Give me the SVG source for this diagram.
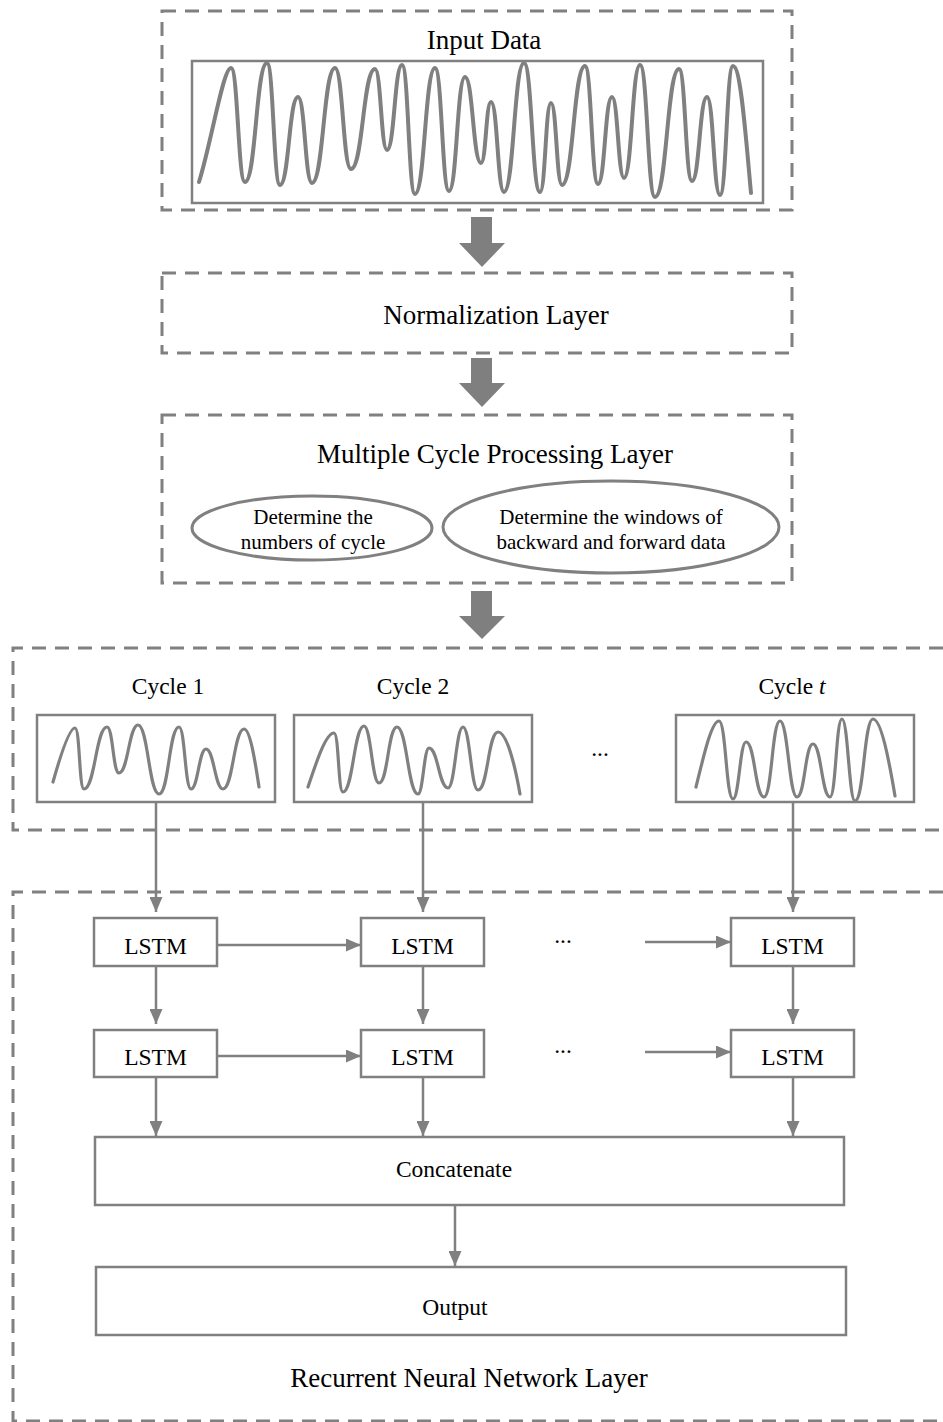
<svg xmlns="http://www.w3.org/2000/svg" width="943" height="1422" viewBox="0 0 943 1422">
<style>
.dash{fill:none;stroke:#808080;stroke-width:3;stroke-dasharray:14 9}
.box{fill:#fff;stroke:#808080;stroke-width:2.5}
.ell{fill:#fff;stroke:#808080;stroke-width:3}
.wave{fill:none;stroke:#808080;stroke-width:4;stroke-linejoin:round;stroke-linecap:round}
.wave2{fill:none;stroke:#808080;stroke-width:3.2;stroke-linejoin:round;stroke-linecap:round}
.big{font-family:"Liberation Serif",serif;font-size:27px;fill:#000;text-anchor:middle}
.mid{font-family:"Liberation Serif",serif;font-size:23.5px;fill:#000;text-anchor:middle}
.sm{font-family:"Liberation Serif",serif;font-size:21px;fill:#000;text-anchor:middle}
.conn{fill:none;stroke:#808080;stroke-width:2.5}
.block{fill:#7f7f7f}
</style>
<defs>
<marker id="ah" markerUnits="userSpaceOnUse" markerWidth="15" markerHeight="13" refX="15" refY="6.5" orient="auto">
<path d="M0,0 L15,6.5 L0,13 z" fill="#808080"/>
</marker>
</defs>
<rect width="943" height="1422" fill="#fff"/>

<g id="input-layer">
<rect class="dash" x="162" y="11" width="630" height="199"/>
<text class="big" x="484" y="49">Input Data</text>
<rect class="box" x="192" y="61" width="571" height="142"/>
<path class="wave" d="M199,182 C212,140 223,68 231,68 C238,68 238,182 245,182 C256,182 256,63 267,63 C273.5,63 273.5,185 280,185 C289,185 289,97 298,97 C305,97 305,183 312,183 C323.5,183 323.5,68 335,68 C343,68 343,169 351,169 C363,169 363,69 375,69 C381,69 381,150 387,150 C394.5,150 394.5,65 402,65 C408.5,65 408.5,194 415,194 C425,194 425,68 435,68 C442,68 442,191 449,191 C457,191 457,77 465,77 C473,77 473,163 481,163 C486,163 486,102 491,102 C497.5,102 497.5,192 504,192 C514,192 514,63 524,63 C532,63 532,192 540,192 C545.5,192 545.5,103 551,103 C556.5,103 556.5,185 562,185 C573.5,185 573.5,66 585,66 C591.5,66 591.5,184 598,184 C605,184 605,97 612,97 C618,97 618,178 624,178 C632,178 632,65 640,65 C647.5,65 647.5,197 655,197 C667,197 667,69 679,69 C685.5,69 685.5,181 692,181 C699.5,181 699.5,97 707,97 C713.5,97 713.5,195 720,195 C726.5,195 726.5,66 733,66 C741,66 746,140 751,193"/>
</g>

<g id="normalization-layer">
<rect class="dash" x="162" y="273" width="630" height="80"/>
<text class="big" x="496" y="324">Normalization Layer</text>
</g>

<g id="multiple-cycle-layer">
<rect class="dash" x="162" y="415" width="630" height="168"/>
<text class="big" x="495" y="463">Multiple Cycle Processing Layer</text>
<g id="ellipse-cycles">
<ellipse class="ell" cx="312" cy="528" rx="120" ry="32"/>
<text class="sm" x="313" y="524">Determine the</text>
<text class="sm" x="313" y="549">numbers of cycle</text>
</g>
<g id="ellipse-windows">
<ellipse class="ell" cx="611" cy="527" rx="168" ry="46"/>
<text class="sm" x="611" y="524">Determine the windows of</text>
<text class="sm" x="611" y="549">backward and forward data</text>
</g>
</g>

<g id="cycles-section">
<path class="dash" d="M943,648 L13,648 L13,830 L943,830"/>
<g id="cycle-1">
<text class="mid" x="168" y="694">Cycle 1</text>
<rect class="box" x="37" y="715" width="238" height="87"/>
<path class="wave2" d="M53,782 C62,750 70,728 75,728 C80,728 79,789 84,789 C95,789 96,727 107,727 C113,727 113,773 119,773 C128,773 129,725 138,725 C148,725 149,794 159,794 C169,794 169,727 179,727 C185,727 185,789 191,789 C198,789 199,749 206,749 C214,749 215,789 223,789 C233,789 234,729 244,729 C250,729 255,760 259,787"/>
</g>
<g id="cycle-2">
<text class="mid" x="413" y="694">Cycle 2</text>
<rect class="box" x="294" y="715" width="238" height="87"/>
<path class="wave2" d="M308,787 C317,760 326,733 334,733 C339,733 338,792 343,792 C353,792 354,726 364,726 C371,726 372,783 379,783 C388,783 388,727 397,727 C407,727 408,794 418,794 C423,794 424,748 429,748 C438,748 439,788 448,788 C455,788 456,727 463,727 C470,727 471,790 478,790 C488,790 488,732 498,732 C506,732 514,760 520,794"/>
</g>
<text class="mid" x="600" y="756">...</text>
<g id="cycle-t">
<text class="mid" x="792" y="694">Cycle <tspan font-style="italic">t</tspan></text>
<rect class="box" x="676" y="715" width="238" height="87"/>
<path class="wave2" d="M696,787 C705,750 712,721 719,721 C726,721 726,799 733,799 C739,799 740,742 746,742 C755,742 755,797 764,797 C772,797 772,721 780,721 C788,721 789,797 797,797 C805,797 805,744 813,744 C821,744 822,797 830,797 C836,797 836,719 842,719 C848,719 849,801 855,801 C864,801 864,719 873,719 C881,719 889,760 895,796"/>
</g>
</g>

<g id="rnn-section">
<path class="dash" d="M943,892 L13,892 L13,1421 L943,1421"/>
<text class="big" x="469" y="1387">Recurrent Neural Network Layer</text>
</g>

<g id="lstm-1-1"><rect class="box" x="94" y="918" width="123" height="48"/><text class="mid" x="155.5" y="954">LSTM</text></g>
<g id="lstm-1-2"><rect class="box" x="361" y="918" width="123" height="48"/><text class="mid" x="422.5" y="954">LSTM</text></g>
<g id="lstm-1-t"><rect class="box" x="731" y="918" width="123" height="48"/><text class="mid" x="792.5" y="954">LSTM</text></g>
<g id="lstm-2-1"><rect class="box" x="94" y="1030" width="123" height="47"/><text class="mid" x="155.5" y="1065">LSTM</text></g>
<g id="lstm-2-2"><rect class="box" x="361" y="1030" width="123" height="47"/><text class="mid" x="422.5" y="1065">LSTM</text></g>
<g id="lstm-2-t"><rect class="box" x="731" y="1030" width="123" height="47"/><text class="mid" x="792.5" y="1065">LSTM</text></g>
<text class="mid" x="563" y="943">...</text>
<text class="mid" x="563" y="1053">...</text>

<g id="concatenate"><rect class="box" x="95" y="1137" width="749" height="68"/><text class="mid" x="454" y="1177">Concatenate</text></g>
<g id="output"><rect class="box" x="96" y="1267" width="750" height="68"/><text class="mid" x="455" y="1315">Output</text></g>

<g id="block-arrows">
<path class="block" d="M471,217 L492,217 L492,243 L505,243 L482,267 L459,243 L471,243 z"/>
<path class="block" d="M471,358 L492,358 L492,383 L505,383 L482,407 L459,383 L471,383 z"/>
<path class="block" d="M471,591 L492,591 L492,616 L505,616 L482,639 L459,616 L471,616 z"/>
</g>

<g id="connectors">
<line class="conn" x1="156" y1="802" x2="156" y2="912" marker-end="url(#ah)"/>
<line class="conn" x1="423" y1="802" x2="423" y2="912" marker-end="url(#ah)"/>
<line class="conn" x1="793" y1="802" x2="793" y2="912" marker-end="url(#ah)"/>
<line class="conn" x1="217" y1="945" x2="361" y2="945" marker-end="url(#ah)"/>
<line class="conn" x1="645" y1="942" x2="731" y2="942" marker-end="url(#ah)"/>
<line class="conn" x1="217" y1="1056" x2="361" y2="1056" marker-end="url(#ah)"/>
<line class="conn" x1="645" y1="1052" x2="731" y2="1052" marker-end="url(#ah)"/>
<line class="conn" x1="156" y1="966" x2="156" y2="1024" marker-end="url(#ah)"/>
<line class="conn" x1="423" y1="966" x2="423" y2="1024" marker-end="url(#ah)"/>
<line class="conn" x1="793" y1="966" x2="793" y2="1024" marker-end="url(#ah)"/>
<line class="conn" x1="156" y1="1077" x2="156" y2="1136" marker-end="url(#ah)"/>
<line class="conn" x1="423" y1="1077" x2="423" y2="1136" marker-end="url(#ah)"/>
<line class="conn" x1="793" y1="1077" x2="793" y2="1136" marker-end="url(#ah)"/>
<line class="conn" x1="455" y1="1205" x2="455" y2="1266" marker-end="url(#ah)"/>
</g>
</svg>
